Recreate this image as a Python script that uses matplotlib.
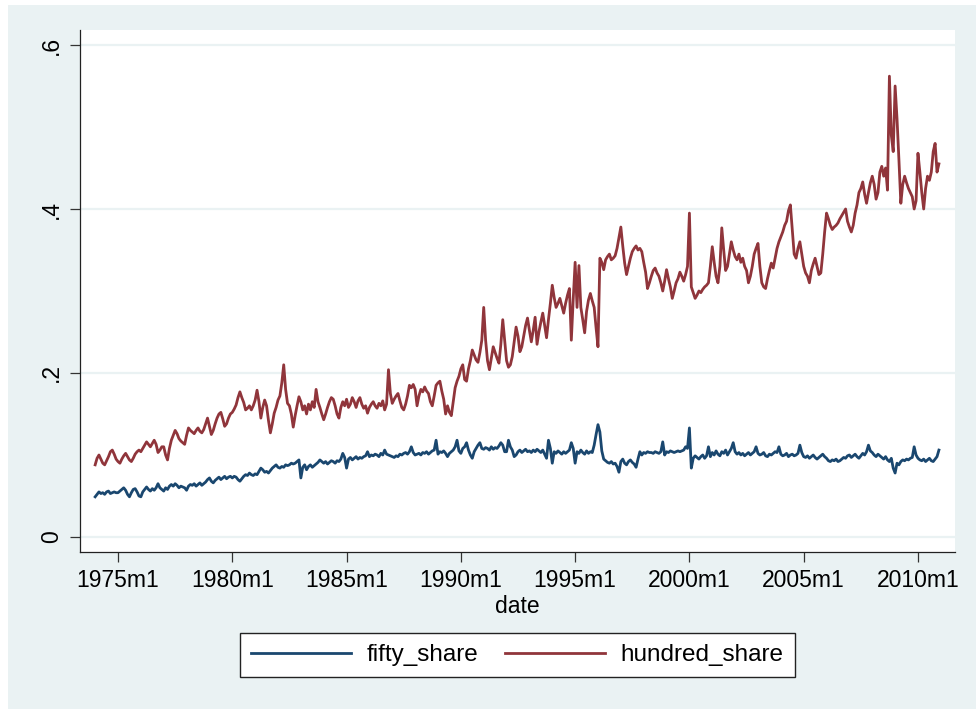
import numpy as np
import matplotlib
matplotlib.use("Agg")
from matplotlib import pyplot as plt
from matplotlib.patches import Rectangle

# monthly shares, 1974m1 .. 2010m12, one row per year (values x 1000)
hundred_share = [
    88, 96, 100, 95, 90, 88, 93, 98, 104, 106, 101, 95,        # 1974
    92, 90, 95, 99, 102, 98, 94, 92, 96, 101, 104, 106,        # 1975
    104, 108, 112, 116, 113, 110, 114, 118, 113, 103, 106, 110,
    110, 100, 94, 108, 118, 124, 130, 126, 120, 117, 115, 113,
    124, 133, 130, 128, 126, 130, 133, 129, 127, 131, 138, 145,
    135, 125, 130, 138, 145, 150, 152, 144, 135, 138, 145, 150,
    152, 156, 161, 170, 177, 170, 164, 155, 157, 160, 155, 160,  # 1980
    167, 179, 165, 145, 158, 167, 160, 142, 127, 138, 151, 158,
    167, 172, 188, 210, 180, 163, 160, 150, 134, 148, 160, 171,
    165, 155, 160, 150, 162, 155, 165, 158, 180, 165, 158, 150,
    143, 150, 158, 165, 170, 168, 160, 150, 145, 158, 165, 160,
    168, 158, 162, 170, 165, 158, 166, 170, 162, 157, 160, 151,  # 1985
    158, 162, 165, 160, 157, 163, 160, 166, 155, 162, 204, 175,
    163, 168, 172, 175, 166, 158, 155, 162, 172, 185, 182, 186,
    180, 160, 172, 180, 177, 183, 178, 175, 165, 160, 172, 185,
    188, 190, 178, 168, 150, 160, 152, 148, 165, 182, 190, 196,
    205, 210, 192, 190, 205, 215, 228, 222, 216, 213, 225, 240,  # 1990
    280, 240, 215, 204, 218, 232, 225, 218, 212, 235, 265, 240,
    215, 207, 210, 220, 238, 256, 245, 226, 232, 245, 258, 267,
    252, 238, 252, 268, 235, 250, 262, 273, 258, 243, 265, 285,
    307, 292, 280, 285, 291, 282, 273, 285, 295, 303, 240, 290,
    335, 280, 331, 280, 265, 249, 275, 289, 297, 288, 280, 255,  # 1995
    232, 340, 335, 326, 338, 342, 345, 338, 340, 343, 352, 365,
    378, 355, 334, 320, 330, 340, 348, 352, 355, 350, 352, 348,
    335, 323, 303, 310, 318, 325, 328, 322, 318, 310, 300, 312,
    326, 315, 305, 291, 300, 310, 315, 323, 318, 312, 320, 330,
    395, 305, 298, 291, 295, 300, 298, 302, 305, 307, 310, 330,  # 2000
    354, 335, 318, 310, 330, 377, 350, 325, 330, 345, 360, 350,
    342, 338, 345, 335, 340, 330, 325, 310, 318, 330, 345, 352,
    358, 330, 310, 305, 303, 315, 325, 334, 328, 340, 352, 360,
    366, 372, 380, 385, 398, 405, 375, 345, 340, 352, 360, 345,
    330, 322, 318, 310, 325, 333, 340, 330, 320, 322, 345, 372,  # 2005
    395, 388, 380, 375, 378, 380, 383, 388, 392, 396, 400, 385,
    378, 372, 380, 395, 405, 420, 425, 433, 418, 407, 420, 432,
    440, 430, 412, 420, 445, 452, 440, 450, 423, 562, 490, 470,
    550, 510, 460, 407, 430, 440, 432, 425, 420, 415, 400, 410,
    468, 445, 420, 400, 425, 440, 435, 445, 470, 480, 445, 455,  # 2010
]

fifty_share = [
    49, 52, 55, 53, 54, 52, 55, 56, 53, 54, 55, 54,            # 1974
    54, 56, 58, 60, 57, 52, 49, 54, 58, 59, 55, 50,
    49, 55, 58, 61, 58, 56, 59, 57, 60, 65, 60, 58,
    56, 60, 58, 62, 64, 62, 65, 63, 60, 62, 61, 60,
    57, 62, 64, 63, 65, 62, 64, 66, 63, 65, 67, 70,
    72, 68, 66, 69, 71, 73, 70, 72, 74, 71, 73, 74,
    72, 74, 73, 70, 68, 71, 74, 76, 75, 78, 76, 75,            # 1980
    77, 76, 80, 84, 82, 79, 80, 78, 81, 84, 86, 88,
    85, 84, 86, 85, 88, 87, 88, 90, 89, 90, 92, 94,
    72, 85, 88, 82, 86, 88, 85, 87, 89, 91, 94, 92,
    90, 92, 89, 91, 93, 92, 90, 93, 92, 95, 102, 97,
    84, 95, 97, 94, 96, 98, 95, 97, 96, 98, 99, 104,           # 1985
    98, 100, 99, 101, 100, 98, 102, 100, 106, 101, 100, 99,
    98, 97, 99, 98, 101, 100, 102, 103, 101, 104, 110, 103,
    100, 101, 102, 100, 103, 102, 104, 101, 103, 105, 106, 118,
    101, 104, 103, 105, 102, 98, 102, 104, 106, 110, 118, 105,
    102, 108, 110, 115, 106, 100, 96, 104, 108, 112, 115, 108,  # 1990
    107, 109, 108, 106, 110, 107, 109, 108, 111, 115, 112, 104,
    104, 118, 110, 106, 98, 100, 104, 106, 103, 105, 107, 104,
    105, 103, 106, 104, 107, 105, 103, 106, 101, 96, 118, 108,
    90, 104, 102, 105, 103, 101, 104, 102, 104, 106, 115, 108,
    90, 104, 102, 106, 103, 101, 105, 102, 104, 103, 112, 125,  # 1995
    137, 128, 105, 95, 93, 91, 90, 92, 89, 90, 86, 79,
    92, 95, 90, 88, 92, 94, 91, 89, 85, 95, 104, 100,
    103, 102, 104, 103, 103, 102, 104, 103, 102, 104, 116, 100,
    104, 103, 105, 104, 103, 104, 105, 104, 105, 106, 110, 108,
    133, 84, 96, 99, 97, 95, 98, 100, 96, 99, 110, 98,          # 2000
    103, 100, 105, 101, 99, 104, 102, 106, 100, 104, 108, 115,
    104, 101, 103, 100, 102, 99, 101, 103, 100, 102, 104, 110,
    102, 100, 101, 103, 99, 98, 101, 100, 102, 104, 103, 110,
    101, 99, 100, 102, 98, 100, 101, 99, 100, 102, 112, 103,
    98, 97, 99, 96, 98, 100, 97, 95, 97, 99, 101, 98,           # 2005
    96, 93, 92, 94, 93, 95, 92, 93, 95, 97, 96, 99,
    100, 97, 99, 101, 98, 96, 99, 102, 100, 104, 112, 105,
    103, 100, 98, 101, 99, 97, 95, 98, 94, 92, 96, 84,
    78, 90, 88, 92, 94, 93, 95, 94, 96, 97, 110, 100,
    96, 94, 93, 95, 92, 94, 96, 93, 92, 95, 98, 106,            # 2010
]

start_year = 1974
tick_years = [1975, 1980, 1985, 1990, 1995, 2000, 2005, 2010]
y_ticks = [0, 0.2, 0.4, 0.6]
y_ticklabels = ["0", ".2", ".4", ".6"]

bg = "#EAF2F3"
navy = "#1A476F"
maroon = "#90353B"

fifty = np.array(fifty_share) / 1000
hundred = np.array(hundred_share) / 1000
date = start_year + np.arange(len(hundred)) / 12

plt.rcParams['font.family'] = ['Liberation Sans', 'DejaVu Sans']

fig = plt.figure(figsize=(9.76, 7.09), dpi=100)
fig.patch.set_facecolor("white")
# stata style outer region, kept behind the axes
fig.patches.append(Rectangle((8 / 976, 0), 1 - 8 / 976, 1 - 5 / 709,
                             transform=fig.transFigure, facecolor=bg,
                             edgecolor="none", zorder=-10))

ax = fig.add_axes([80 / 976, 1 - 552 / 709, 875 / 976, 522 / 709])
ax.set_zorder(1)
ax.set_facecolor("white")

for yv in y_ticks:
    ax.axhline(yv, color=bg, lw=1.6, zorder=1)

ax.plot(date, fifty, color=navy, lw=2.0, label="fifty_share", zorder=3)
ax.plot(date, hundred, color=maroon, lw=2.0, label="hundred_share", zorder=3)

ax.set_xlim(1973.337, 2011.62)
ax.set_ylim(-0.0183, 0.6183)

ax.set_xticks(tick_years)
ax.set_xticklabels([f"{y}m1" for y in tick_years])
ax.set_yticks(y_ticks)
ax.set_yticklabels(y_ticklabels, rotation=90, va="center")

ax.tick_params(axis="both", labelsize=16.5, length=7.5, width=0.9,
               color="#333333", pad=5)
ax.set_xlabel("date", fontsize=16.5, labelpad=2)

for side in ["top", "right"]:
    ax.spines[side].set_visible(False)
for side in ["left", "bottom"]:
    ax.spines[side].set_color("#222222")
    ax.spines[side].set_linewidth(0.9)

leg = fig.legend(loc="center", bbox_to_anchor=(517.5 / 976, 1 - 655 / 709),
                 ncol=2, fontsize=17.5, frameon=True, fancybox=False,
                 handlelength=4.1, columnspacing=1.1, borderpad=0.45,
                 handletextpad=0.65, borderaxespad=0)
leg.get_frame().set_edgecolor("#222222")
leg.get_frame().set_linewidth(1.0)
leg.get_frame().set_facecolor("white")
leg.get_frame().set_alpha(1)

plt.savefig("out.png", dpi=100, facecolor=fig.get_facecolor())
